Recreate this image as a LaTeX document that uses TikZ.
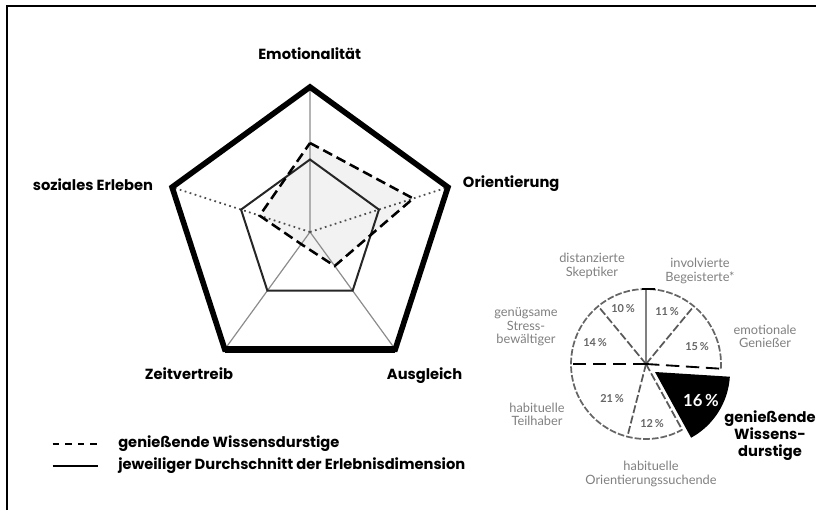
\documentclass[tikz,border=0pt]{standalone}
\usepackage{fontspec}
\setmainfont{Lato}
\newfontfamily\labfont{Poppins}
\begin{document}
\begin{tikzpicture}[x=0.75pt,y=-0.75pt,
  lab/.style={font=\labfont\fontsize{11}{12.75}\selectfont\bfseries, inner sep=0, text=black},
  glab/.style={font=\fontsize{9.6}{10}\selectfont, text=black!50, align=center, inner sep=0},
  pct/.style={font=\fontsize{8.2}{10}\selectfont\bfseries, text=black!60, inner sep=0},
  axisline/.style={black!45, line width=0.9pt},
  dotline/.style={black!70, line width=1.3pt, dash pattern=on 1.3pt off 2.6pt},
  avgline/.style={black!85, line width=1.5pt, line join=miter},
  wdline/.style={black, line width=1.9pt, dash pattern=on 7.5pt off 3.8pt, line join=miter},
  outerline/.style={black, line width=4.2pt, line join=miter},
  pieline/.style={black!60, line width=1.3pt, dash pattern=on 5pt off 1.5pt},
  pieradial/.style={black!65, line width=1.3pt, dash pattern=on 6pt off 2pt},
  framestyle/.style={black, line width=1.9pt}]
\useasboundingbox (0,0) rectangle (816,510);
% frame
\coordinate (f1) at (7,510);
\coordinate (f2) at (7,6);
\coordinate (f3) at (816,6);
\draw[framestyle] (f1) -- (f2) -- (f3);

% radar chart
\begin{scope}[shift={(310,232)}, x=0.75pt, y=0.75pt]
  \coordinate (c) at (0,0);
  \foreach \n/\a in {E/90,O/18,A/-54,Z/-126,S/162} {
    \coordinate (\n) at (\a:145);
    \coordinate (\n m) at (\a:72.5);
  }
  \coordinate (Ed) at (90:89);
  \coordinate (Od) at (18:108.5);
  \coordinate (Ad) at (-54:42);
  \coordinate (Zd) at (-126:15);
  \coordinate (Sd) at (162:53);
  \fill[black!5] (Ed) -- (Od) -- (Ad) -- (Zd) -- (Sd) -- cycle;
  \draw[axisline] (c) -- (E) (c) -- (A) (c) -- (Z);
  \draw[dotline] (c) -- (O) (c) -- (S);
  \draw[avgline] (Em) -- (Om) -- (Am) -- (Zm) -- (Sm) -- cycle;
  \draw[wdline] (Ed) -- (Od) -- (Ad) -- (Zd) -- (Sd) -- cycle;
  \draw[outerline] (E) -- (O) -- (A) -- (Z) -- (S) -- cycle;
  \draw[black, line width=5.3pt] (A) -- (Z);
\end{scope}

\node[lab, anchor=base] (tE) at (309.7,59.5) {Emotionalität};
\node[lab, anchor=base west] (tO) at (462.7,187.7) {Orientierung};
\node[lab, anchor=base east] (tS) at (153.3,190) {soziales Erleben};
\node[lab, anchor=base east] (tZ) at (233.3,379.3) {Zeitvertreib};
\node[lab, anchor=base west] (tA) at (386.7,379.3) {Ausgleich};

% legend
\coordinate (l1a) at (52.7,444.3);
\coordinate (l1b) at (97.5,444.3);
\coordinate (l2a) at (52.7,465.7);
\coordinate (l2b) at (98,465.7);
\draw[black, line width=1.6pt, dash pattern=on 4.9pt off 4.5pt] (l1a) -- (l1b);
\draw[black, line width=1.6pt] (l2a) -- (l2b);
\node[lab, anchor=base west] (lg1) at (118,447.3) {genießende Wissensdurstige};
\node[lab, anchor=base west] (lg2) at (118,469.5) {jeweiliger Durchschnitt der Erlebnisdimension};

% pie chart
\begin{scope}[shift={(646,364)}, x=0.75pt, y=0.75pt]
  \coordinate (pc) at (0,0);
  \draw[pieline] (-3.6:75) arc[start angle=-3.6, end angle=298.8, radius=75];
  \draw[black!50, line width=1.3pt] (pc) -- (90:75);
  \draw[black, line width=1.3pt] (-4,75) -- (9,75);
  \foreach \a in {50.4,129.6,-104.4,-61.2} {
    \draw[pieradial] (pc) -- (\a:75);
  }
  \draw[black, line width=1.4pt, dash pattern=on 10pt off 5pt] (pc) -- (-3.6:75);
  \draw[black, line width=1.4pt, dash pattern=on 10pt off 5pt] (pc) -- (180:75);
  \begin{scope}[shift={(9,-8)}]
    \coordinate (bc) at (0,0);
    \fill[black] (bc) -- (-3.6:75) arc[start angle=-3.6, end angle=-61.2, radius=75] -- cycle;
  \end{scope}
\end{scope}

\node[pct] (p10) at (623,309) {10\,\%};
\node[pct] (p11) at (667,312) {11\,\%};
\node[pct] (p14) at (595,343) {14\,\%};
\node[pct] (p15) at (697,347) {15\,\%};
\node[pct] (p21) at (612,399) {21\,\%};
\node[pct] (p12) at (652,424) {12\,\%};
\node[font=\fontsize{12.5}{14}\selectfont\bfseries, text=white, inner sep=0] (p16) at (701,400) {16\,\%};

\node[glab] (gDS) at (592,266) {distanzierte\\Skeptiker};
\node[glab] (gIB) at (700,271) {involvierte\\Begeisterte*};
\node[glab] (gGS) at (526,327) {genügsame\\Stress-\\bewältiger};
\node[glab] (gEG) at (765,336) {emotionale\\Genießer};
\node[glab] (gHT) at (537,414) {habituelle\\Teilhaber};
\node[glab] (gHO) at (651,474) {habituelle\\Orientierungssuchende};
\node[lab, align=center] (gGW) at (770,436) {genießende\\Wissens-\\durstige};
\end{tikzpicture}
\end{document}
